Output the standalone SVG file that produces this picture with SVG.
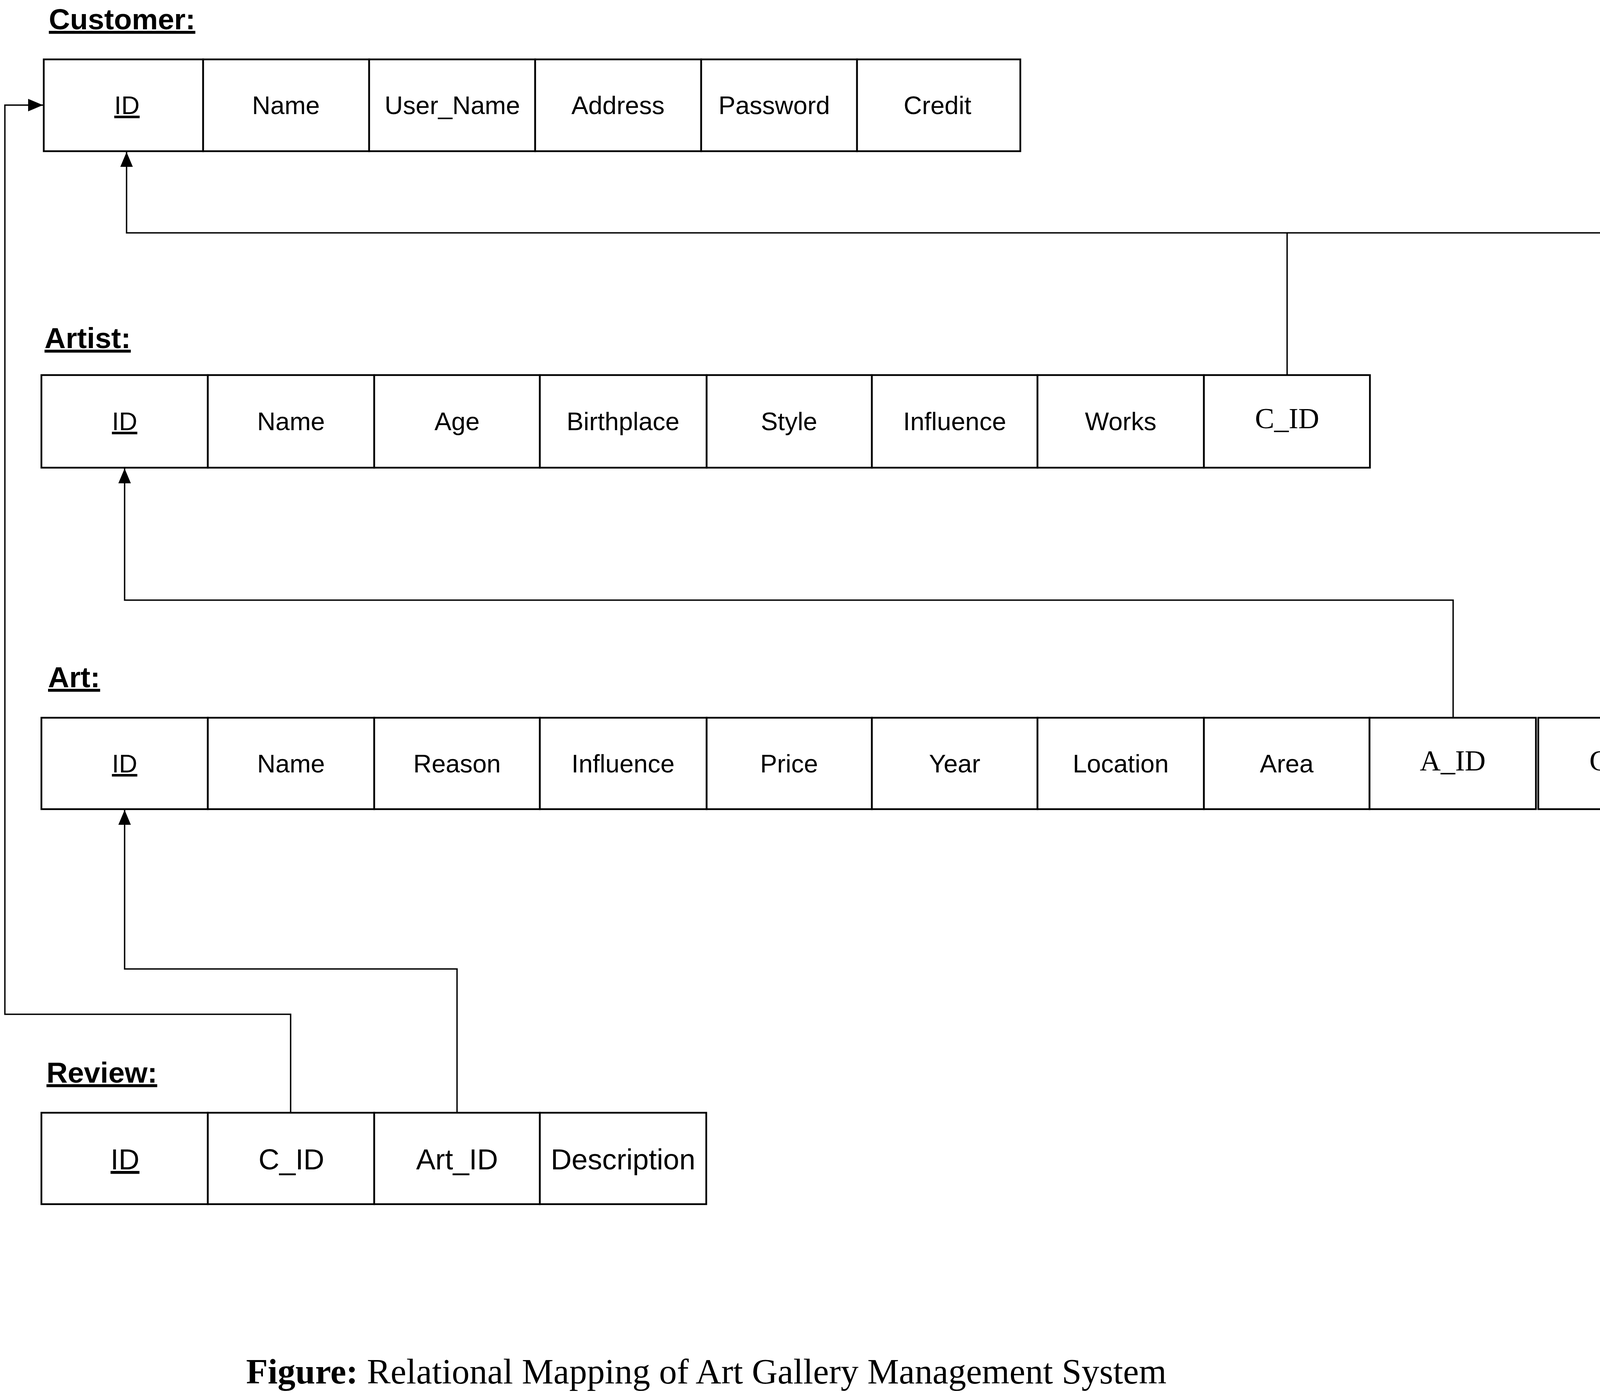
<svg xmlns="http://www.w3.org/2000/svg" width="4370" height="3573" viewBox="0 0 4370 3573">
<style>
.bg{fill:#fff}
.cell{fill:#fff;stroke:#000;stroke-width:4.5}
.title{font-family:"Liberation Sans",Arial,sans-serif;font-weight:bold;font-size:75px;text-decoration:underline;fill:#000}
.t{font-family:"Liberation Sans",Arial,sans-serif;font-size:65px;text-anchor:middle;fill:#000}
.tr{font-family:"Liberation Sans",Arial,sans-serif;font-size:74px;text-anchor:middle;fill:#000}
.s{font-family:"Liberation Serif","Times New Roman",serif;font-size:74px;text-anchor:middle;fill:#000}
.u{text-decoration:underline}
.conn{fill:none;stroke:#000;stroke-width:3.5}
.cap{font-family:"Liberation Serif","Times New Roman",serif;font-size:91px;fill:#000}
</style>
<defs>
<marker id="arr" markerUnits="userSpaceOnUse" markerWidth="38" markerHeight="32" refX="38" refY="16" orient="auto" viewBox="0 0 38 32">
<path d="M0,0 L38,16 L0,32 z" fill="#000"/>
</marker>
</defs>
<rect class="bg" x="0" y="0" width="4370" height="3573"/>

<g id="customer">
<text class="title" x="125" y="75">Customer:</text>
<rect class="cell" x="112" y="152" width="408" height="235"/>
<rect class="cell" x="520" y="152" width="425" height="235"/>
<rect class="cell" x="945" y="152" width="425" height="235"/>
<rect class="cell" x="1370" y="152" width="425" height="235"/>
<rect class="cell" x="1795" y="152" width="399" height="235"/>
<rect class="cell" x="2194" y="152" width="418" height="235"/>
<text class="t u" x="325" y="292">ID</text>
<text class="t" x="732" y="292">Name</text>
<text class="t" x="1158" y="292">User_Name</text>
<text class="t" x="1582" y="292">Address</text>
<text class="t" x="1982" y="292">Password</text>
<text class="t" x="2400" y="292">Credit</text>
</g>

<g id="artist">
<text class="title" x="114" y="891">Artist:</text>
<rect class="cell" x="106" y="960" width="426" height="237"/>
<rect class="cell" x="532" y="960" width="426" height="237"/>
<rect class="cell" x="958" y="960" width="424" height="237"/>
<rect class="cell" x="1382" y="960" width="427" height="237"/>
<rect class="cell" x="1809" y="960" width="423" height="237"/>
<rect class="cell" x="2232" y="960" width="424" height="237"/>
<rect class="cell" x="2656" y="960" width="426" height="237"/>
<rect class="cell" x="3082" y="960" width="425" height="237"/>
<text class="t u" x="319" y="1101">ID</text>
<text class="t" x="745" y="1101">Name</text>
<text class="t" x="1170" y="1101">Age</text>
<text class="t" x="1595" y="1101">Birthplace</text>
<text class="t" x="2020" y="1101">Style</text>
<text class="t" x="2444" y="1101">Influence</text>
<text class="t" x="2869" y="1101">Works</text>
<text class="s" x="3295" y="1096">C_ID</text>
</g>

<g id="art">
<text class="title" x="123" y="1759">Art:</text>
<rect class="cell" x="106" y="1837" width="426" height="234"/>
<rect class="cell" x="532" y="1837" width="426" height="234"/>
<rect class="cell" x="958" y="1837" width="424" height="234"/>
<rect class="cell" x="1382" y="1837" width="427" height="234"/>
<rect class="cell" x="1809" y="1837" width="423" height="234"/>
<rect class="cell" x="2232" y="1837" width="424" height="234"/>
<rect class="cell" x="2656" y="1837" width="426" height="234"/>
<rect class="cell" x="3082" y="1837" width="424" height="234"/>
<rect class="cell" x="3506" y="1837" width="426" height="234"/>
<rect class="cell" x="3938" y="1837" width="426" height="234"/>
<text class="t u" x="319" y="1977">ID</text>
<text class="t" x="745" y="1977">Name</text>
<text class="t" x="1170" y="1977">Reason</text>
<text class="t" x="1595" y="1977">Influence</text>
<text class="t" x="2020" y="1977">Price</text>
<text class="t" x="2444" y="1977">Year</text>
<text class="t" x="2869" y="1977">Location</text>
<text class="t" x="3294" y="1977">Area</text>
<text class="s" x="3719" y="1972">A_ID</text>
<text class="s" x="4151" y="1972">C_ID</text>
</g>

<g id="review">
<text class="title" x="119" y="2771">Review:</text>
<rect class="cell" x="106" y="2848" width="426" height="234"/>
<rect class="cell" x="532" y="2848" width="426" height="234"/>
<rect class="cell" x="958" y="2848" width="424" height="234"/>
<rect class="cell" x="1382" y="2848" width="426" height="234"/>
<text class="tr u" x="320" y="2993">ID</text>
<text class="tr" x="746" y="2993">C_ID</text>
<text class="tr" x="1170" y="2993">Art_ID</text>
<text class="tr" x="1595" y="2993">Description</text>
</g>

<g id="connectors">
<path class="conn" d="M3295,960 V596 H324 V389" marker-end="url(#arr)"/>
<path class="conn" d="M4152,1837 V596 H3295"/>
<path class="conn" d="M3720,1837 V1536 H319 V1199" marker-end="url(#arr)"/>
<path class="conn" d="M1170,2848 V2480 H319 V2073" marker-end="url(#arr)"/>
<path class="conn" d="M744,2848 V2596 H12.5 V269 H110" marker-end="url(#arr)"/>
</g>

<g id="caption">
<text class="cap" x="630" y="3541"><tspan font-weight="bold">Figure:</tspan> Relational Mapping of Art Gallery Management System</text>
</g>
</svg>
